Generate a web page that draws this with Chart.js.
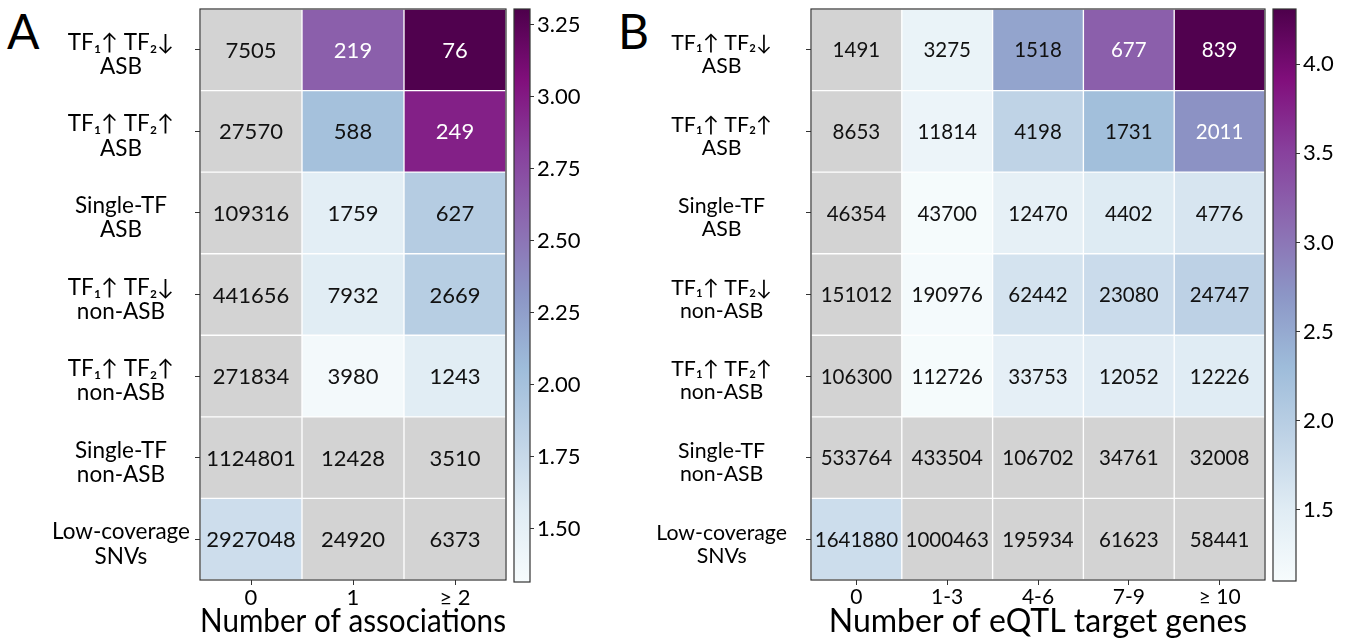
<!DOCTYPE html>
<html>
<head>
<meta charset="utf-8">
<script src="https://cdn.jsdelivr.net/npm/chart.js@4.4.0/dist/chart.umd.min.js"></script>
<style>
  html, body { margin: 0; padding: 0; background: #fff; }
  body { width: 1347px; height: 642px; position: relative; overflow: hidden; font-family: Lato, sans-serif; }
  .box { position: absolute; top: 0; height: 642px; }
  .letter { position: absolute; font-family: Lato, sans-serif; font-size: 48px; line-height: 1; color: #000; }
</style>
</head>
<body>
<div class="letter" style="left:7px;top:7px">A</div>
<div class="letter" style="left:618px;top:7px">B</div>
<div class="box" style="left:0;width:520px"><canvas id="heatA" width="520" height="642"></canvas></div>
<div class="box" style="left:500px;width:100px"><canvas id="barA" width="100" height="642"></canvas></div>
<div class="box" style="left:600px;width:680px"><canvas id="heatB" width="680" height="642"></canvas></div>
<div class="box" style="left:1260px;width:87px"><canvas id="barB" width="87" height="642"></canvas></div>
<script>
// rows shared by both panels
const rowLabels = [
    ['TF₁↑ TF₂↓', 'ASB'],
    ['TF₁↑ TF₂↑', 'ASB'],
    ['Single-TF', 'ASB'],
    ['TF₁↑ TF₂↓', 'non-ASB'],
    ['TF₁↑ TF₂↑', 'non-ASB'],
    ['Single-TF', 'non-ASB'],
    ['Low-coverage', 'SNVs']
];

// panel A
const colsA = ['0', '1', '≥ 2'];
const countsA = [
    [7505, 219, 76],
    [27570, 588, 249],
    [109316, 1759, 627],
    [441656, 7932, 2669],
    [271834, 3980, 1243],
    [1124801, 12428, 3510],
    [2927048, 24920, 6373]
];
// colour value of each cell, null = not significant (grey)
const foldA = [
    [null, 2.63, 3.29],
    [null, 2.01, 2.97],
    [null, 1.53, 1.89],
    [null, 1.55, 1.87],
    [null, 1.36, 1.55],
    [null, null, null],
    [1.71, null, null]
];
const rangeA = [1.315, 3.305];
const ticksA = [1.5, 1.75, 2.0, 2.25, 2.5, 2.75, 3.0, 3.25];

// panel B
const colsB = ['0', '1-3', '4-6', '7-9', '≥ 10'];
const countsB = [
    [1491, 3275, 1518, 677, 839],
    [8653, 11814, 4198, 1731, 2011],
    [46354, 43700, 12470, 4402, 4776],
    [151012, 190976, 62442, 23080, 24747],
    [106300, 112726, 33753, 12052, 12226],
    [533764, 433504, 106702, 34761, 32008],
    [1641880, 1000463, 195934, 61623, 58441]
];
const foldB = [
    [null, 1.32, 2.56, 3.22, 4.28],
    [null, 1.29, 1.90, 2.26, 2.74],
    [null, 1.13, 1.39, 1.52, 1.61],
    [null, 1.16, 1.65, 1.77, 1.93],
    [null, 1.13, 1.42, 1.49, 1.50],
    [null, null, null, null, null],
    [1.74, null, null, null, null]
];
const rangeB = [1.10, 4.31];
const ticksB = [1.5, 2.0, 2.5, 3.0, 3.5, 4.0];

// matplotlib BuPu
const BUPU = [
    [247, 252, 253], [224, 236, 244], [191, 211, 230], [158, 188, 218],
    [140, 150, 198], [140, 107, 177], [136, 65, 157], [129, 15, 124], [77, 0, 75]
];
const GREY = [211, 211, 211];

function bupu(t) {
    t = Math.max(0, Math.min(1, t));
    const p = t * 8;
    const i = Math.min(7, Math.floor(p));
    const f = p - i;
    return BUPU[i].map((c, k) => Math.round(c + (BUPU[i + 1][k] - c) * f));
}

const norm = (v, range) => (v - range[0]) / (range[1] - range[0]);

function cellRGB(v, range) {
    if (v == null) return GREY;
    return bupu(norm(v, range));
}

const rgbStr = c => `rgb(${c[0]}, ${c[1]}, ${c[2]})`;

// white text on the upper half of the colour range
function textColor(v, range) {
    return v != null && norm(v, range) > 0.5 ? '#fff' : '#111';
}

// no automatic room for half labels at the ends
function noEdgePadding(s) {
    s.paddingTop = 0;
    s.paddingBottom = 0;
    s.paddingLeft = 0;
    s.paddingRight = 0;
}

const framePlugin = {
    id: 'frame',
    afterDraw(chart) {
        const { ctx, chartArea: a } = chart;
        ctx.save();
        ctx.strokeStyle = '#333';
        ctx.lineWidth = 1.2;
        ctx.strokeRect(a.left, a.top, a.right - a.left, a.bottom - a.top);
        ctx.restore();
    }
};

const cellTextPlugin = {
    id: 'cellText',
    afterDatasetsDraw(chart, args, opts) {
        const ctx = chart.ctx;
        ctx.save();
        ctx.font = `${opts.size}px Lato`;
        ctx.textAlign = 'center';
        ctx.textBaseline = 'middle';
        chart.data.datasets.forEach((ds, ci) => {
            chart.getDatasetMeta(ci).data.forEach((el, ri) => {
                ctx.fillStyle = textColor(opts.fold[ri][ci], opts.range);
                ctx.fillText(String(opts.counts[ri][ci]), (el.x + el.base) / 2, el.y + 1);
            });
        });
        ctx.restore();
    }
};

function makeHeatmap(id, cols, counts, fold, range, cfg) {
    const datasets = cols.map((c, ci) => ({
        label: c,
        data: rowLabels.map(() => [ci - 0.5, ci + 0.5]),
        backgroundColor: rowLabels.map((_, ri) => rgbStr(cellRGB(fold[ri][ci], range))),
        borderColor: 'rgba(255, 255, 255, 0.08)',
        borderWidth: 1,
        borderSkipped: false,
        grouped: false,
        barPercentage: 1,
        categoryPercentage: 1
    }));

    return new Chart(document.getElementById(id), {
        type: 'bar',
        data: { labels: rowLabels, datasets },
        options: {
            indexAxis: 'y',
            responsive: false,
            animation: false,
            layout: { padding: { top: cfg.top, right: cfg.right, left: 0, bottom: 0 } },
            plugins: {
                legend: { display: false },
                tooltip: { enabled: false },
                cellText: { counts, fold, range, size: cfg.cellFont }
            },
            scales: {
                y: {
                    type: 'category',
                    offset: true,
                    afterFit: s => { s.width = cfg.yWidth; noEdgePadding(s); },
                    grid: { display: true, drawOnChartArea: false, offset: false, tickLength: 5, color: '#333' },
                    border: { display: false },
                    ticks: {
                        crossAlign: 'center',
                        padding: cfg.yPad,
                        labelOffset: 5,
                        color: '#000',
                        autoSkip: false,
                        font: { family: 'Lato', size: cfg.labelFont, lineHeight: 1.08 }
                    }
                },
                x: {
                    type: 'linear',
                    min: -0.5,
                    max: cols.length - 0.5,
                    afterBuildTicks: s => { s.ticks = cols.map((_, i) => ({ value: i })); },
                    afterFit: s => { s.height = cfg.xHeight; noEdgePadding(s); },
                    grid: { display: true, drawOnChartArea: false, tickLength: 5, color: '#333' },
                    border: { display: false },
                    ticks: {
                        callback: v => cols[Math.round(v)],
                        padding: 1,
                        color: '#000',
                        maxRotation: 0,
                        autoSkip: false,
                        font: { family: 'Lato', size: cfg.xFont, lineHeight: 1.1 }
                    },
                    title: {
                        display: true,
                        text: cfg.title,
                        color: '#000',
                        font: { family: 'Lato', size: cfg.titleFont, lineHeight: 1.1 },
                        padding: { top: 0, bottom: 3 }
                    }
                }
            }
        },
        plugins: [cellTextPlugin, framePlugin]
    });
}

function makeColorbar(id, range, ticks, decimals, cfg) {
    return new Chart(document.getElementById(id), {
        type: 'bar',
        data: {
            labels: [''],
            datasets: [{
                data: [[range[0], range[1]]],
                backgroundColor: ctx => {
                    const area = ctx.chart.chartArea;
                    if (!area) return null;
                    const g = ctx.chart.ctx.createLinearGradient(0, area.bottom, 0, area.top);
                    BUPU.forEach((c, i) => g.addColorStop(i / (BUPU.length - 1), rgbStr(c)));
                    return g;
                },
                borderWidth: 0,
                barPercentage: 1,
                categoryPercentage: 1
            }]
        },
        options: {
            responsive: false,
            animation: false,
            layout: { padding: { left: cfg.left, top: cfg.top, bottom: cfg.bottom, right: 0 } },
            plugins: { legend: { display: false }, tooltip: { enabled: false } },
            scales: {
                x: { display: false },
                y: {
                    position: 'right',
                    min: range[0],
                    max: range[1],
                    afterFit: s => { s.width = cfg.axisWidth; noEdgePadding(s); },
                    afterBuildTicks: s => { s.ticks = ticks.map(v => ({ value: v })); },
                    grid: { display: true, drawOnChartArea: false, tickLength: 4, color: '#333' },
                    border: { display: false },
                    ticks: {
                        callback: v => Number(v).toFixed(decimals),
                        padding: 3,
                        color: '#000',
                        font: { family: 'Lato', size: cfg.font }
                    }
                }
            }
        },
        plugins: [framePlugin]
    });
}

makeHeatmap('heatA', colsA, countsA, foldA, rangeA, {
    top: 9, right: 14, yWidth: 200, yPad: 5, xHeight: 62,
    labelFont: 22.5, xFont: 22, cellFont: 22, titleFont: 32, title: 'Number of associations'
});
makeColorbar('barA', rangeA, ticksA, 2, { left: 14, top: 9, bottom: 60, axisWidth: 70, font: 22 });

makeHeatmap('heatB', colsB, countsB, foldB, rangeB, {
    top: 9, right: 15, yWidth: 211, yPad: 19, xHeight: 62,
    labelFont: 21.3, xFont: 21, cellFont: 20.5, titleFont: 32, title: 'Number of eQTL target genes'
});
makeColorbar('barB', rangeB, ticksB, 1, { left: 13, top: 9, bottom: 61, axisWidth: 51, font: 22 });
</script>
</body>
</html>
